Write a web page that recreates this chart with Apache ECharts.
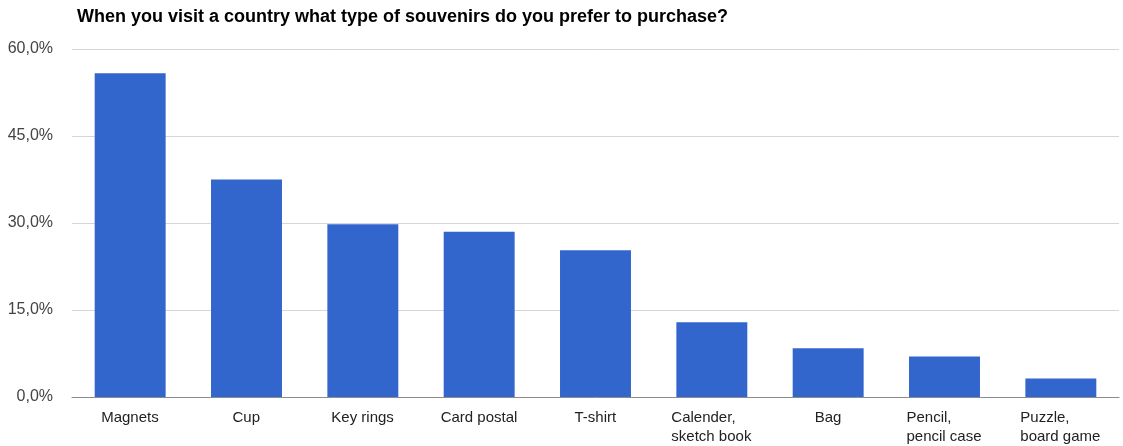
<!DOCTYPE html>
<html>
<head>
<meta charset="utf-8">
<script src="https://cdn.jsdelivr.net/npm/echarts@6/dist/echarts.min.js"></script>
<style>
  html, body { margin: 0; padding: 0; background: #fff; }
  #chart { width: 1123px; height: 446px; }
</style>
</head>
<body>
<div id="chart"></div>
<script>
// Survey: preferred souvenir types (share of respondents, %)
const categories = [
  'Magnets', 'Cup', 'Key rings', 'Card postal', 'T-shirt',
  'Calender,\nsketch book', 'Bag', 'Pencil,\npencil case', 'Puzzle,\nboard game'
];
const shares = [55.8, 37.5, 29.8, 28.5, 25.3, 12.9, 8.4, 7.0, 3.2];
const yTicks = { min: 0, max: 60, interval: 15 };
const titleText = 'When you visit a country what type of souvenirs do you prefer to purchase?';

const FONT = 'Arial, "Liberation Sans", sans-serif';
const LABEL_SIZE = 15;

// Multi-line labels: lines are left-aligned inside a block that is centred under the bar.
const measureCtx = document.createElement('canvas').getContext('2d');
measureCtx.font = LABEL_SIZE + 'px ' + FONT;
const rich = {};
categories.forEach((c, i) => {
  const w = Math.max(...c.split('\n').map(l => measureCtx.measureText(l).width));
  rich['c' + i] = { width: Math.ceil(w), align: 'left', fontSize: LABEL_SIZE,
                    fontFamily: FONT, color: '#222', lineHeight: 19 };
});

const chart = echarts.init(document.getElementById('chart'), null, { renderer: 'canvas' });
chart.setOption({
  animation: false,
  backgroundColor: '#ffffff',
  title: {
    text: titleText,
    left: 72,
    top: 3,
    textStyle: { fontFamily: FONT, fontSize: 18, fontWeight: 'bold', color: '#000' }
  },
  grid: { left: 72, right: 4, top: 49, bottom: 46.5, containLabel: false },
  xAxis: {
    type: 'category',
    data: categories,
    axisTick: { show: false },
    axisLine: { show: true, lineStyle: { color: '#8c8c8c', width: 1 } },
    axisLabel: {
      interval: 0,
      margin: 11,
      fontFamily: FONT,
      fontSize: LABEL_SIZE,
      color: '#222',
      lineHeight: 19,
      formatter: (value) => {
        const i = categories.indexOf(value);
        return value.split('\n').map(l => '{c' + i + '|' + l + '}').join('\n');
      },
      rich: rich
    }
  },
  yAxis: {
    type: 'value',
    min: yTicks.min,
    max: yTicks.max,
    interval: yTicks.interval,
    axisLine: { show: false },
    axisTick: { show: false },
    splitLine: { lineStyle: { color: '#d6d6d6', width: 1 } },
    axisLabel: {
      margin: 19,
      fontFamily: FONT,
      fontSize: 16,
      color: '#444',
      formatter: v => v.toFixed(1).replace('.', ',') + '%'
    }
  },
  series: [{
    type: 'bar',
    data: shares,
    barCategoryGap: '39%',
    itemStyle: { color: '#3366cc' }
  }]
});
</script>
</body>
</html>
